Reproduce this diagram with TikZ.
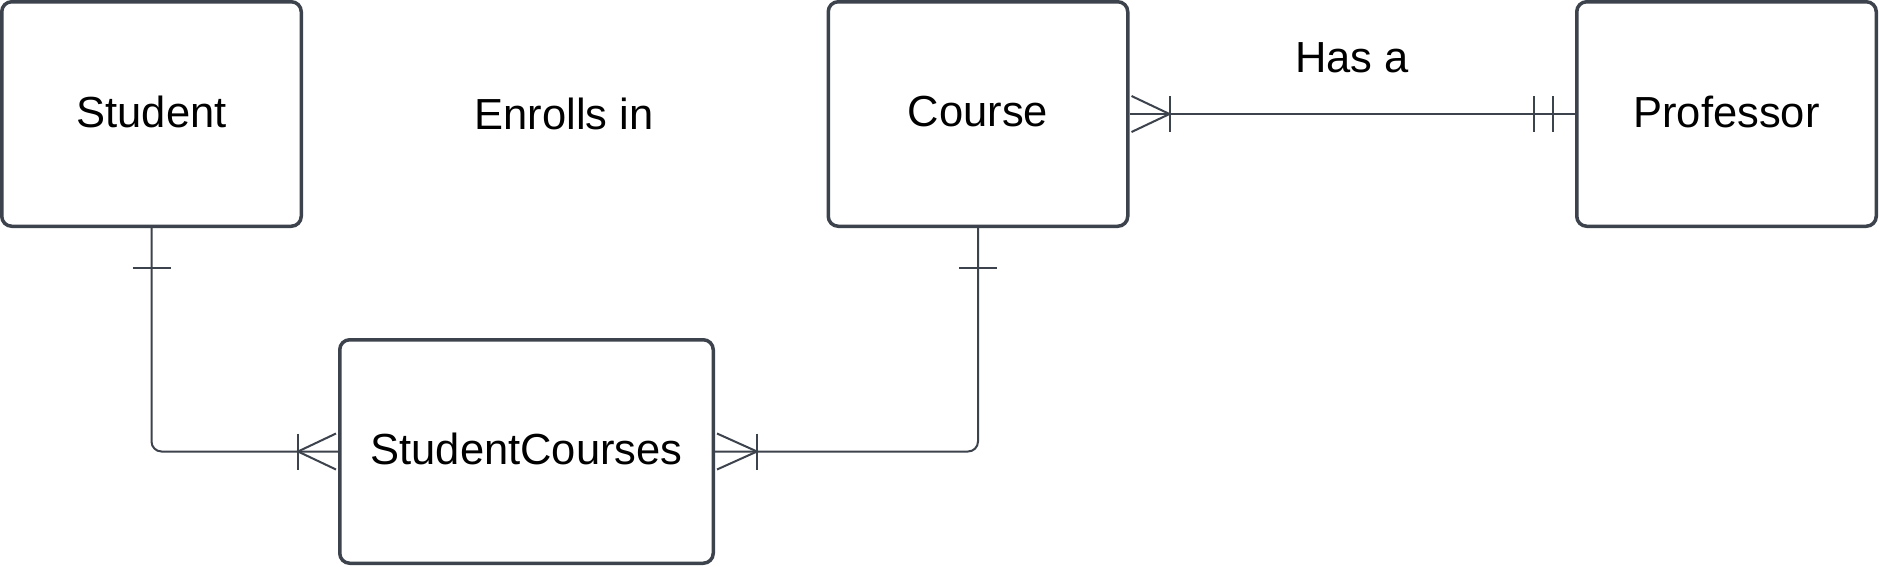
\documentclass[tikz,border=0pt]{standalone}
\usepackage{fontspec}
\setmainfont{Liberation Sans}
\usetikzlibrary{calc}
\definecolor{ln}{HTML}{3D434C}
\begin{document}
\begin{tikzpicture}[x=1pt,y=-1pt,
  entity/.style={draw=ln, line width=3.5pt, rounded corners=10pt, minimum width=299.5pt, minimum height=224.5pt, inner sep=0pt, text depth=5pt, font=\fontsize{43.5}{50}\selectfont, text=black},
  conn/.style={draw=ln, line width=2pt, rounded corners=10pt},
  tk/.style={draw=ln, line width=2pt},
  lbl/.style={font=\fontsize{43.5}{50}\selectfont, text=black, inner sep=0pt}]
\useasboundingbox (0,0) rectangle (1879,566);
\fill[white] (0,0) rectangle (1879,566);
\node[entity] (student) at (151.5,114) {Student};
\node[entity] (course) at (978,114) {Course};
\node[entity] (prof) at (1726.5,114) {Professor};
\node[entity, minimum width=373.5pt, minimum height=223.5pt] (sc) at (526.5,451.5) {StudentCourses};
\node[lbl] (enr) at (564,114) {Enrolls in};
\node[lbl] (hasa) at (1352,58) {Has a};
% connectors
\draw[conn] (student.south) |- (sc.west);
\draw[conn] (course.south) |- (sc.east);
\draw[conn] (course.east) -- (prof.west);
% one marks
\draw[tk] ($(student.south)+(-19,40)$) -- ++(38,0);
\draw[tk] ($(course.south)+(-19,40)$) -- ++(38,0);
% many marks at StudentCourses
\draw[tk] ($(sc.west)+(-40,-18)$) -- ++(0,36);
\draw[tk] ($(sc.west)+(-2,-18)$) -- ($(sc.west)+(-40,0)$) -- ($(sc.west)+(-2,18)$);
\draw[tk] ($(sc.east)+(42,-18)$) -- ++(0,36);
\draw[tk] ($(sc.east)+(2,-18)$) -- ($(sc.east)+(42,0)$) -- ($(sc.east)+(2,18)$);
% Course - Professor
\draw[tk] ($(course.east)+(40,-18)$) -- ++(0,36);
\draw[tk] ($(course.east)+(2,-18)$) -- ($(course.east)+(40,0)$) -- ($(course.east)+(2,18)$);
\draw[tk, line width=1.2pt] ($(prof.west)+(-41,-18)$) -- ++(0,36);
\draw[tk] ($(prof.west)+(-22,-18)$) -- ++(0,36);
\end{tikzpicture}
\end{document}
